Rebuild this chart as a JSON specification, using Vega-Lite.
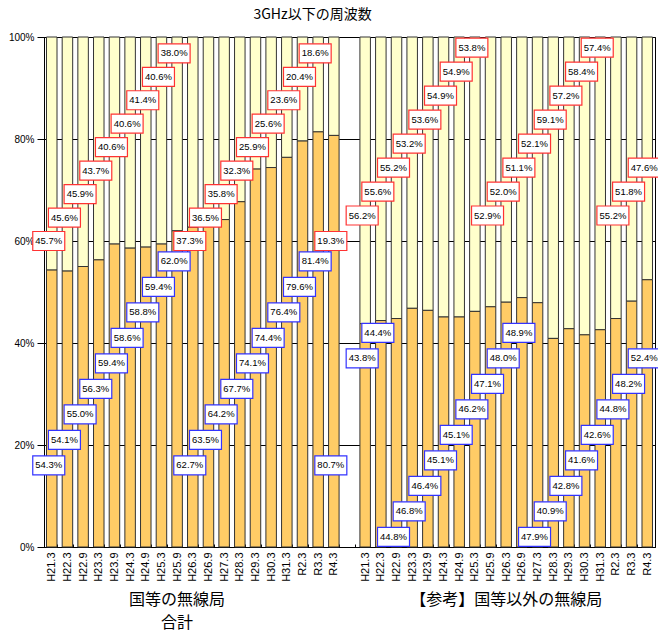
{
  "$schema": "https://vega.github.io/schema/vega-lite/v6.json",
  "width": 611,
  "height": 510,
  "autosize": "none",
  "padding": {"left": 44, "top": 37, "right": 3, "bottom": 88},
  "background": "white",
  "title": {"text": "3GHz以下の周波数", "font": "Noto Sans CJK JP", "fontSize": 14, "fontWeight": "normal", "color": "#000", "anchor": "middle", "frame": "group", "dx": -37, "offset": 10},
  "data": {"values": [
    {"grp": "A", "period": "H21.3", "low": 54.3, "high": 45.7},
    {"grp": "A", "period": "H22.3", "low": 54.1, "high": 45.6},
    {"grp": "A", "period": "H22.9", "low": 55.0, "high": 45.9},
    {"grp": "A", "period": "H23.3", "low": 56.3, "high": 43.7},
    {"grp": "A", "period": "H23.9", "low": 59.4, "high": 40.6},
    {"grp": "A", "period": "H24.3", "low": 58.6, "high": 40.6},
    {"grp": "A", "period": "H24.9", "low": 58.8, "high": 41.4},
    {"grp": "A", "period": "H25.3", "low": 59.4, "high": 40.6},
    {"grp": "A", "period": "H25.9", "low": 62.0, "high": 38.0},
    {"grp": "A", "period": "H26.3", "low": 62.7, "high": 37.3},
    {"grp": "A", "period": "H26.9", "low": 63.5, "high": 36.5},
    {"grp": "A", "period": "H27.3", "low": 64.2, "high": 35.8},
    {"grp": "A", "period": "H28.3", "low": 67.7, "high": 32.3},
    {"grp": "A", "period": "H29.3", "low": 74.1, "high": 25.9},
    {"grp": "A", "period": "H30.3", "low": 74.4, "high": 25.6},
    {"grp": "A", "period": "H31.3", "low": 76.4, "high": 23.6},
    {"grp": "A", "period": "R2.3", "low": 79.6, "high": 20.4},
    {"grp": "A", "period": "R3.3", "low": 81.4, "high": 18.6},
    {"grp": "A", "period": "R4.3", "low": 80.7, "high": 19.3},
    {"grp": "B", "period": "H21.3", "low": 43.8, "high": 56.2},
    {"grp": "B", "period": "H22.3", "low": 44.4, "high": 55.6},
    {"grp": "B", "period": "H22.9", "low": 44.8, "high": 55.2},
    {"grp": "B", "period": "H23.3", "low": 46.8, "high": 53.2},
    {"grp": "B", "period": "H23.9", "low": 46.4, "high": 53.6},
    {"grp": "B", "period": "H24.3", "low": 45.1, "high": 54.9},
    {"grp": "B", "period": "H24.9", "low": 45.1, "high": 54.9},
    {"grp": "B", "period": "H25.3", "low": 46.2, "high": 53.8},
    {"grp": "B", "period": "H25.9", "low": 47.1, "high": 52.9},
    {"grp": "B", "period": "H26.3", "low": 48.0, "high": 52.0},
    {"grp": "B", "period": "H26.9", "low": 48.9, "high": 51.1},
    {"grp": "B", "period": "H27.3", "low": 47.9, "high": 52.1},
    {"grp": "B", "period": "H28.3", "low": 40.9, "high": 59.1},
    {"grp": "B", "period": "H29.3", "low": 42.8, "high": 57.2},
    {"grp": "B", "period": "H30.3", "low": 41.6, "high": 58.4},
    {"grp": "B", "period": "H31.3", "low": 42.6, "high": 57.4},
    {"grp": "B", "period": "R2.3", "low": 44.8, "high": 55.2},
    {"grp": "B", "period": "R3.3", "low": 48.2, "high": 51.8},
    {"grp": "B", "period": "R4.3", "low": 52.4, "high": 47.6}
  ]},
  "layer": [
    {
      "transform": [{"calculate": "datum.grp + '|' + datum.period", "as": "key"}],
      "mark": {"type": "bar", "fill": "#FFFFCC", "stroke": "#333333", "strokeWidth": 1},
      "encoding": {
        "x": {
          "field": "key", "type": "nominal",
          "scale": {"domain": ["A|H21.3","A|H22.3","A|H22.9","A|H23.3","A|H23.9","A|H24.3","A|H24.9","A|H25.3","A|H25.9","A|H26.3","A|H26.9","A|H27.3","A|H28.3","A|H29.3","A|H30.3","A|H31.3","A|R2.3","A|R3.3","A|R4.3","sp","B|H21.3","B|H22.3","B|H22.9","B|H23.3","B|H23.9","B|H24.3","B|H24.9","B|H25.3","B|H25.9","B|H26.3","B|H26.9","B|H27.3","B|H28.3","B|H29.3","B|H30.3","B|H31.3","B|R2.3","B|R3.3","B|R4.3"], "paddingInner": 0.33, "paddingOuter": 0.16},
          "axis": {"title": null, "labelAngle": -90, "labelExpr": "indexof(datum.label, '|') >= 0 ? split(datum.label, '|')[1] : ''", "labelFont": "Liberation Sans", "labelFontSize": 11, "labelColor": "#000", "domainColor": "#000", "ticks": true, "tickBand": "extent", "tickSize": -3, "tickColor": "#000", "labelPadding": 8, "grid": false}
        },
        "y": {
          "field": "low", "type": "quantitative",
          "scale": {"domain": [0, 100], "nice": false},
          "axis": {"title": null, "values": [0, 20, 40, 60, 80, 100], "labelExpr": "datum.value + '%'", "labelFont": "Liberation Sans", "labelFontSize": 10, "labelColor": "#000", "grid": true, "gridColor": "#000", "gridOpacity": 1, "gridWidth": 1, "domainColor": "#000", "tickColor": "#000", "tickSize": 7, "labelPadding": 3}
        },
        "y2": {"datum": 100}
      }
    },
    {
      "transform": [{"calculate": "datum.grp + '|' + datum.period", "as": "key"}],
      "mark": {"type": "bar", "fill": "#FFCC66", "stroke": "#333333", "strokeWidth": 1},
      "encoding": {
        "x": {"field": "key", "type": "nominal", "axis": {"title": null}},
        "y": {"field": "low", "type": "quantitative", "axis": {"title": null}}
      }
    },
    {
      "transform": [
        {"calculate": "datum.grp + '|' + datum.period", "as": "key"},
        {"window": [{"op": "row_number", "as": "rn"}], "groupby": ["grp"], "sort": [{"field": "period", "order": "ascending"}]},
        {"calculate": "datum.rn - 1", "as": "i"},
        {"fold": ["low", "high"], "as": ["part", "pct"]},
        {"calculate": "datum.part == 'low' ? (datum.grp == 'A' ? 16 + 5 * (datum.i % 9) : 2 + 5 * ((datum.i + 7) % 9)) : (datum.grp == 'A' ? 60 + 4.6 * (datum.i % 9) : 65 + 4.7 * (datum.i % 8))", "as": "ly"},
        {"calculate": "format(datum.pct, '.1f') + '%'", "as": "txt"}
      ],
      "layer": [
        {
          "mark": {"type": "point", "shape": "M-1,-0.594L1,-0.594L1,0.594L-1,0.594Z", "size": 1024, "filled": true, "fill": "white", "strokeWidth": 1.2, "opacity": 1, "xOffset": -3},
          "encoding": {
            "x": {"field": "key", "type": "nominal", "axis": {"title": null}},
            "y": {"field": "ly", "type": "quantitative", "axis": {"title": null}},
            "stroke": {"field": "part", "type": "nominal", "scale": {"domain": ["low", "high"], "range": ["#3333FF", "#FF3333"]}, "legend": null}
          }
        },
        {
          "mark": {"type": "text", "font": "Liberation Sans", "fontSize": 9.5, "color": "#000", "align": "center", "baseline": "middle", "xOffset": -3},
          "encoding": {
            "x": {"field": "key", "type": "nominal", "axis": {"title": null}},
            "y": {"field": "ly", "type": "quantitative", "axis": {"title": null}},
            "text": {"field": "txt"}
          }
        }
      ]
    },
    {
      "data": {"values": [
        {"key": "A|H25.9", "name": "国等の無線局"},
        {"key": "B|H26.3", "name": "【参考】国等以外の無線局"}
      ]},
      "mark": {"type": "text", "font": "Noto Sans CJK JP", "fontSize": 16, "color": "#000", "align": "center", "baseline": "top", "dy": 45},
      "encoding": {
        "x": {"field": "key", "type": "nominal", "axis": {"title": null}},
        "y": {"datum": 0, "type": "quantitative"},
        "text": {"field": "name"}
      }
    },
    {
      "data": {"values": [
        {"key": "A|H25.9", "name": "合計"}
      ]},
      "mark": {"type": "text", "font": "Noto Sans CJK JP", "fontSize": 16, "color": "#000", "align": "center", "baseline": "top", "dy": 68},
      "encoding": {
        "x": {"field": "key", "type": "nominal", "axis": {"title": null}},
        "y": {"datum": 0, "type": "quantitative"},
        "text": {"field": "name"}
      }
    }
  ],
  "config": {
    "view": {"stroke": "#000", "strokeWidth": 1}
  }
}
